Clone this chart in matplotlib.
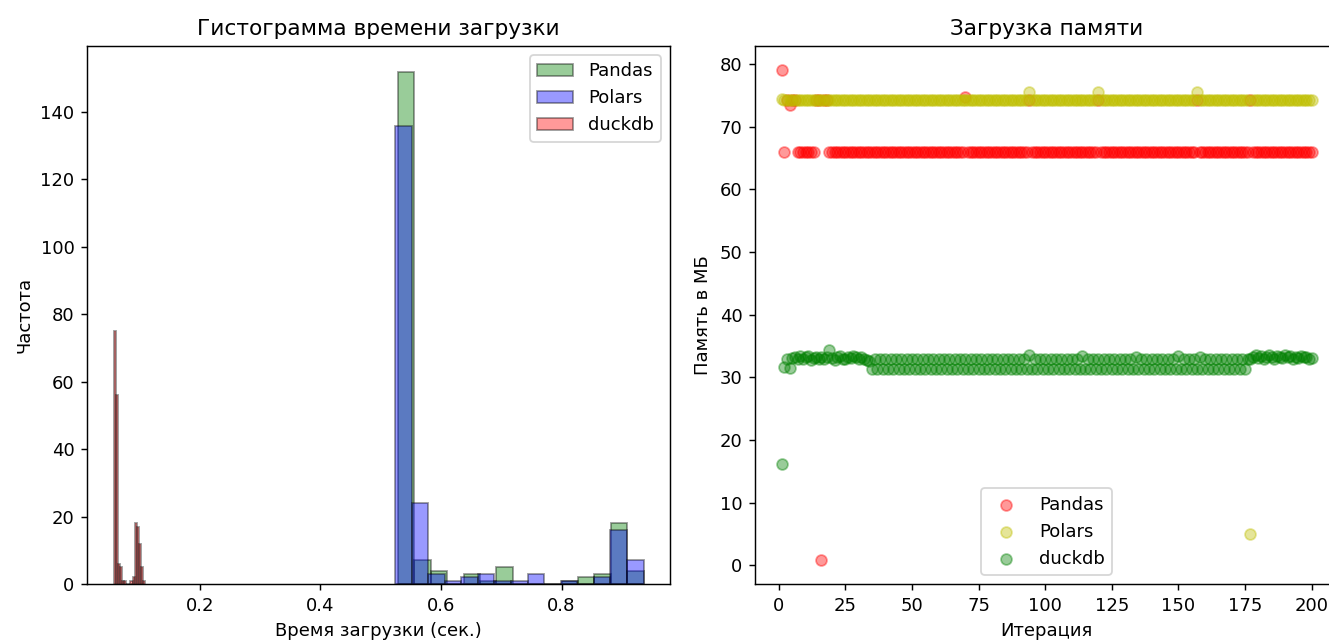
import matplotlib
matplotlib.use('Agg')
import matplotlib.pyplot as plt
import numpy as np

# histogram: 15 bins per library, range (min, max) and counts
libs = ['Pandas', 'Polars', 'duckdb']
hist_colors = ['green', 'blue', 'red']

pandas_range = (0.529, 0.936)
pandas_counts = [152, 7, 4, 0, 3, 1, 5, 0, 0, 0, 1, 2, 3, 18, 4]

polars_range = (0.524, 0.936)
polars_counts = [136, 24, 3, 1, 2, 3, 1, 1, 3, 0, 1, 0, 2, 16, 7]

duckdb_range = (0.0572, 0.1096)
duckdb_counts = [75, 56, 6, 5, 1, 1, 0, 0, 1, 2, 18, 17, 12, 5, 1]

# memory per iteration (MB)
iterations = list(range(1, 201))

pandas_mem = [
    79.0, 66.0, 74.3, 73.5, 74.3, 74.3, 66.0, 66.0, 66.0, 66.0, 66.0, 66.0, 66.0, 74.3, 74.3, 0.9, 74.3, 74.3, 66.0, 66.0,
    66.0, 66.0, 66.0, 66.0, 66.0, 66.0, 66.0, 66.0, 66.0, 66.0, 66.0, 66.0, 66.0, 66.0, 66.0, 66.0, 66.0, 66.0, 66.0, 66.0,
    66.0, 66.0, 66.0, 66.0, 66.0, 66.0, 66.0, 66.0, 66.0, 66.0, 66.0, 66.0, 66.0, 66.0, 66.0, 66.0, 66.0, 66.0, 66.0, 66.0,
    66.0, 66.0, 66.0, 66.0, 66.0, 66.0, 66.0, 66.0, 66.0, 74.8, 66.0, 66.0, 66.0, 66.0, 66.0, 66.0, 66.0, 66.0, 66.0, 66.0,
    66.0, 66.0, 66.0, 66.0, 66.0, 66.0, 66.0, 66.0, 66.0, 66.0, 66.0, 66.0, 66.0, 74.3, 66.0, 66.0, 66.0, 66.0, 66.0, 66.0,
    66.0, 66.0, 66.0, 66.0, 66.0, 66.0, 66.0, 66.0, 66.0, 66.0, 66.0, 66.0, 66.0, 66.0, 66.0, 66.0, 66.0, 66.0, 66.0, 74.3,
    66.0, 66.0, 66.0, 66.0, 66.0, 66.0, 66.0, 66.0, 66.0, 66.0, 66.0, 66.0, 66.0, 66.0, 66.0, 66.0, 66.0, 66.0, 66.0, 66.0,
    66.0, 66.0, 66.0, 66.0, 66.0, 66.0, 66.0, 66.0, 66.0, 66.0, 66.0, 66.0, 66.0, 66.0, 66.0, 66.0, 74.3, 66.0, 66.0, 66.0,
    66.0, 66.0, 66.0, 66.0, 66.0, 66.0, 66.0, 66.0, 66.0, 66.0, 66.0, 66.0, 66.0, 66.0, 66.0, 66.0, 74.3, 66.0, 66.0, 66.0,
    66.0, 66.0, 66.0, 66.0, 66.0, 66.0, 66.0, 66.0, 66.0, 66.0, 66.0, 66.0, 66.0, 66.0, 66.0, 66.0, 66.0, 66.0, 66.0, 66.0,
]

polars_mem = [
    74.4, 74.3, 74.3, 74.3, 74.3, 74.3, 74.3, 74.3, 74.3, 74.3, 74.3, 74.3, 74.3, 74.3, 74.3, 74.3, 74.3, 74.3, 74.3, 74.3,
    74.3, 74.3, 74.3, 74.3, 74.3, 74.3, 74.3, 74.3, 74.3, 74.3, 74.3, 74.3, 74.3, 74.3, 74.3, 74.3, 74.3, 74.3, 74.3, 74.3,
    74.3, 74.3, 74.3, 74.3, 74.3, 74.3, 74.3, 74.3, 74.3, 74.3, 74.3, 74.3, 74.3, 74.3, 74.3, 74.3, 74.3, 74.3, 74.3, 74.3,
    74.3, 74.3, 74.3, 74.3, 74.3, 74.3, 74.3, 74.3, 74.3, 74.3, 74.3, 74.3, 74.3, 74.3, 74.3, 74.3, 74.3, 74.3, 74.3, 74.3,
    74.3, 74.3, 74.3, 74.3, 74.3, 74.3, 74.3, 74.3, 74.3, 74.3, 74.3, 74.3, 74.3, 75.6, 74.3, 74.3, 74.3, 74.3, 74.3, 74.3,
    74.3, 74.3, 74.3, 74.3, 74.3, 74.3, 74.3, 74.3, 74.3, 74.3, 74.3, 74.3, 74.3, 74.3, 74.3, 74.3, 74.3, 74.3, 74.3, 75.6,
    74.3, 74.3, 74.3, 74.3, 74.3, 74.3, 74.3, 74.3, 74.3, 74.3, 74.3, 74.3, 74.3, 74.3, 74.3, 74.3, 74.3, 74.3, 74.3, 74.3,
    74.3, 74.3, 74.3, 74.3, 74.3, 74.3, 74.3, 74.3, 74.3, 74.3, 74.3, 74.3, 74.3, 74.3, 74.3, 74.3, 75.6, 74.3, 74.3, 74.3,
    74.3, 74.3, 74.3, 74.3, 74.3, 74.3, 74.3, 74.3, 74.3, 74.3, 74.3, 74.3, 74.3, 74.3, 74.3, 74.3, 5.0, 74.3, 74.3, 74.3,
    74.3, 74.3, 74.3, 74.3, 74.3, 74.3, 74.3, 74.3, 74.3, 74.3, 74.3, 74.3, 74.3, 74.3, 74.3, 74.3, 74.3, 74.3, 74.3, 74.3,
]

duckdb_mem = [
    16.2, 31.6, 33.0, 31.5, 33.1, 33.3, 32.9, 33.4, 33.0, 33.2, 33.4, 32.8, 33.1, 33.3, 32.9, 33.2, 33.0, 33.3, 34.4, 33.1,
    32.8, 33.2, 33.4, 33.0, 32.9, 33.3, 33.1, 33.4, 33.2, 32.9, 33.2, 33.0, 32.7, 32.6, 31.3, 32.9, 31.3, 32.9, 31.3, 32.9,
    31.3, 32.9, 31.4, 32.9, 31.3, 32.9, 31.3, 33.0, 31.3, 32.9, 31.3, 32.9, 31.3, 32.9, 31.4, 32.9, 31.3, 32.9, 31.3, 32.9,
    31.3, 33.0, 31.3, 32.9, 31.3, 32.9, 31.3, 32.9, 31.4, 32.9, 31.3, 32.9, 31.3, 32.9, 31.3, 33.0, 31.3, 32.9, 31.3, 32.9,
    31.3, 32.9, 31.3, 32.9, 31.3, 32.9, 31.4, 32.9, 31.3, 32.9, 31.3, 32.9, 31.3, 33.5, 31.3, 32.9, 31.3, 32.9, 31.3, 32.9,
    31.3, 32.9, 31.3, 33.0, 31.3, 32.9, 31.3, 32.9, 31.4, 32.9, 31.3, 32.9, 31.3, 33.4, 31.3, 32.9, 31.3, 32.9, 31.3, 32.9,
    31.3, 32.9, 31.3, 32.9, 31.3, 33.0, 31.3, 32.9, 31.3, 32.9, 31.4, 32.9, 31.3, 33.3, 31.3, 32.9, 31.3, 32.9, 31.3, 32.9,
    31.3, 32.9, 31.3, 32.9, 31.3, 33.0, 31.3, 32.9, 31.3, 33.4, 31.3, 32.9, 31.3, 32.9, 31.3, 32.9, 31.3, 33.2, 31.3, 32.9,
    31.3, 32.9, 31.3, 32.9, 31.3, 32.9, 31.4, 32.9, 31.3, 32.9, 31.3, 32.9, 31.3, 32.9, 31.3, 33.0, 32.9, 33.2, 33.5, 33.1,
    33.4, 33.0, 33.3, 33.5, 33.2, 33.0, 33.4, 33.3, 33.1, 33.5, 33.2, 33.4, 33.0, 33.3, 33.1, 33.4, 33.2, 33.3, 33.0, 33.1,
]

fig, (ax1, ax2) = plt.subplots(1, 2, figsize=(1329 / 130, 640 / 130), dpi=130)
fig.subplots_adjust(left=0.0655, right=1.0068, top=1 - 46 / 640, bottom=1 - 584 / 640, wspace=0.1458)

# left: load time histogram
for name, color, rng, counts in zip(libs, hist_colors,
                                    [pandas_range, polars_range, duckdb_range],
                                    [pandas_counts, polars_counts, duckdb_counts]):
    edges = np.linspace(rng[0], rng[1], len(counts) + 1)
    centers = (edges[:-1] + edges[1:]) / 2
    ax1.hist(centers, bins=edges, weights=counts, color=color, alpha=0.4,
             edgecolor='black', label=name)
ax1.set_title('Гистограмма времени загрузки')
ax1.set_xlabel('Время загрузки (сек.)')
ax1.set_ylabel('Частота')
ax1.legend(loc='upper right')

# right: memory usage
ax2.scatter(iterations, pandas_mem, color='red', alpha=0.4, label='Pandas')
ax2.scatter(iterations, polars_mem, color='y', alpha=0.4, label='Polars')
ax2.scatter(iterations, duckdb_mem, color='green', alpha=0.4, label='duckdb')
ax2.set_title('Загрузка памяти')
ax2.set_xlabel('Итерация')
ax2.set_ylabel('Память в МБ')
ax2.legend(loc='lower center')

plt.savefig('out.png', dpi=130)
